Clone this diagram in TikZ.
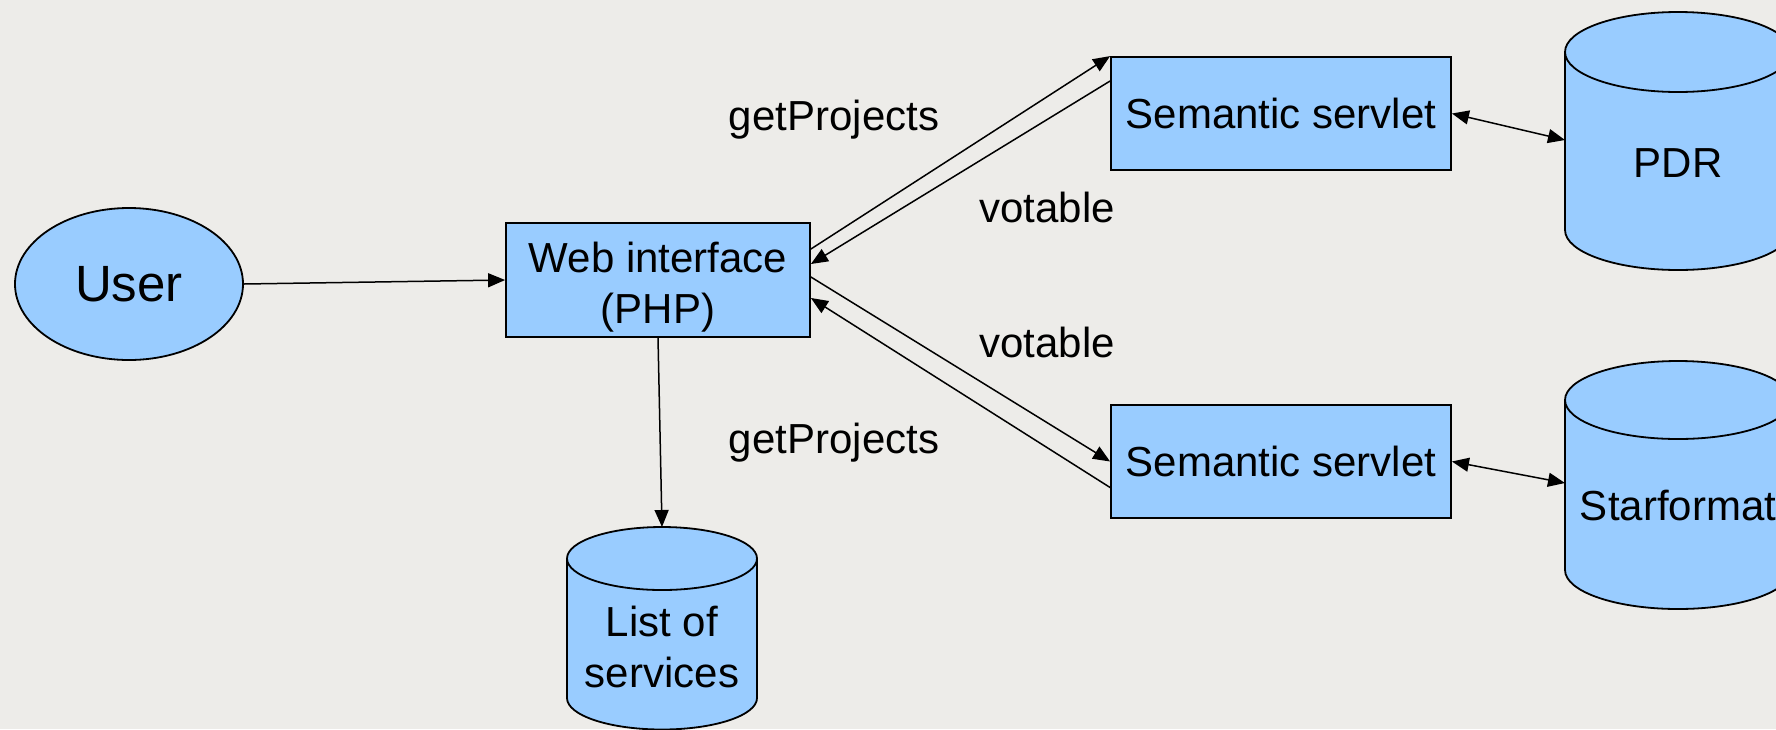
\documentclass[tikz,border=0pt]{standalone}
\usepackage{fontspec}
\setmainfont{Liberation Sans}
\usetikzlibrary{shapes.geometric,arrows.meta}

\definecolor{bgpaper}{RGB}{237,236,233}
\definecolor{boxblue}{RGB}{153,204,255}

\begin{document}
\begin{tikzpicture}[
    x=0.5pt, y=-0.5pt,
    every node/.style={font=\fontsize{21}{25.5}\selectfont, text=black},
    procbox/.style={draw=black, line width=0.9pt, fill=boxblue, inner sep=0pt},
    userell/.style={ellipse, draw=black, line width=0.9pt, fill=boxblue, inner sep=0pt,
                    minimum width=114pt, minimum height=76pt,
                    font=\fontsize{25.5}{30}\selectfont},
    dbline/.style={draw=black, line width=0.9pt, fill=boxblue},
    dbtext/.style={inner sep=0pt, align=center},
    lbl/.style={inner sep=0pt, anchor=base},
    conn/.style={line width=0.75pt, -{Triangle[length=8.5pt,width=7pt]}},
    biconn/.style={line width=0.75pt, {Triangle[length=8.5pt,width=7pt]}-{Triangle[length=8.5pt,width=7pt]}}
  ]
  % page
  \fill[bgpaper] (0,0) rectangle (1776,729);
  \useasboundingbox (0,0) rectangle (1776,729);

  % processing boxes and the user
  \node[userell] (user) at (129,284) {User};
  \node[procbox, minimum width=152pt, minimum height=57pt, align=center]
       (web) at (658,280) {\rule{0pt}{22pt}Web interface\\(PHP)};
  \node[procbox, minimum width=170pt, minimum height=56.5pt]
       (ss1) at (1281,113.5) {Semantic servlet};
  \node[procbox, minimum width=170pt, minimum height=56.5pt]
       (ss2) at (1281,461.5) {Semantic servlet};

  % database cylinders
  \filldraw[dbline] (1565,52) -- (1565,230)
     arc[start angle=180, end angle=360, x radius=56.5pt, y radius=20pt]
     -- (1791,52)
     arc[start angle=0, end angle=180, x radius=56.5pt, y radius=20pt] -- cycle;
  \draw[line width=0.9pt] (1565,52)
     arc[start angle=180, end angle=360, x radius=56.5pt, y radius=20pt];

  \filldraw[dbline] (1565,400) -- (1565,570)
     arc[start angle=180, end angle=360, x radius=56.5pt, y radius=19.5pt]
     -- (1791,400)
     arc[start angle=0, end angle=180, x radius=56.5pt, y radius=19.5pt] -- cycle;
  \draw[line width=0.9pt] (1565,400)
     arc[start angle=180, end angle=360, x radius=56.5pt, y radius=19.5pt];

  \filldraw[dbline] (567,558.5) -- (567,698)
     arc[start angle=180, end angle=360, x radius=47.5pt, y radius=15.75pt]
     -- (757,558.5)
     arc[start angle=0, end angle=180, x radius=47.5pt, y radius=15.75pt] -- cycle;
  \draw[line width=0.9pt] (567,558.5)
     arc[start angle=180, end angle=360, x radius=47.5pt, y radius=15.75pt];

  \node[lbl] (pdr) at (1678,177) {PDR};
  \node[lbl] (sf) at (1678,520) {Starformat};
  \node[dbtext] (list) at (662,647) {List of\\services};

  \coordinate (pdrin) at (1565,140);
  \coordinate (sfin) at (1565,483);
  \coordinate (listin) at (662,527);

  % connectors
  \draw[conn] (user.east) -- (web.west);
  \draw[conn] (web.south) -- (listin);

  \draw[conn] ([yshift=15.5pt]web.east) -- (ss1.north west);
  \draw[conn] ([yshift=16.25pt]ss1.west) -- ([yshift=8pt]web.east);
  \draw[conn] ([yshift=1.5pt]web.east) -- (ss2.west);
  \draw[conn] ([yshift=-13pt]ss2.west) -- ([yshift=-9pt]web.east);

  \draw[biconn] (ss1.east) -- (pdrin);
  \draw[biconn] (ss2.east) -- (sfin);

  % message labels
  \node[lbl] (l1) at (834,130) {getProjects};
  \node[lbl] (l2) at (1047,222) {votable};
  \node[lbl] (l3) at (1047,357) {votable};
  \node[lbl] (l4) at (834,453) {getProjects};
\end{tikzpicture}
\end{document}
